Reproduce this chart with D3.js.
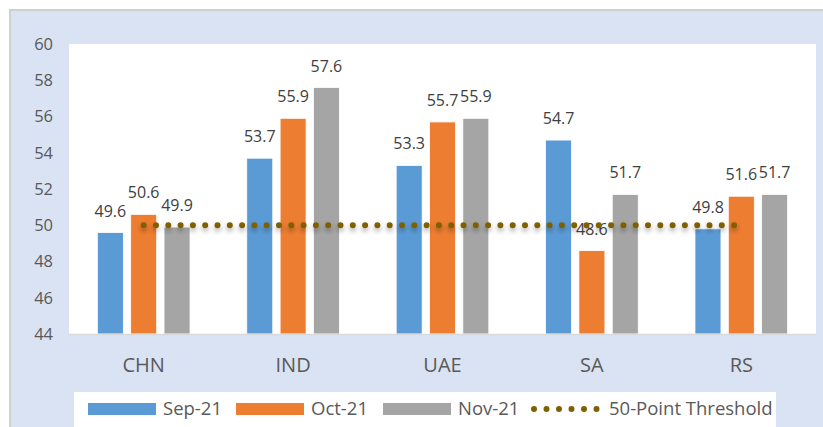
<!DOCTYPE html>
<html>
<head>
<meta charset="utf-8">
<script src="https://cdn.jsdelivr.net/npm/d3@7"></script>
<style>
  body { margin: 0; background: #fff; }
  text { font-family: 'Open Sans', sans-serif; }
</style>
</head>
<body>
<script>
// chart data
var countries = ['CHN', 'IND', 'UAE', 'SA', 'RS']
var seriesNames = ['Sep-21', 'Oct-21', 'Nov-21']
var sep21 = [49.6, 53.7, 53.3, 54.7, 49.8]
var oct21 = [50.6, 55.9, 55.7, 48.6, 51.6]
var nov21 = [49.9, 57.6, 55.9, 51.7, 51.7]
var threshold = [50, 50, 50, 50, 50]
var thresholdName = '50-Point Threshold'
var yTicks = [44, 46, 48, 50, 52, 54, 56, 58, 60]

var colors = ['#5B9BD5', '#ED7D31', '#A5A5A5']
var lineColor = '#7F6000'
var seriesValues = [sep21, oct21, nov21]

var width = 823, height = 427
var plot = {left: 69, right: 816, top: 44, bottom: 334}

var svg = d3.select('body').append('svg').attr('width', width).attr('height', height)

// shadow under the dotted line (user space, the path is flat so bbox height is 0)
var defs = svg.append('defs')
var f = defs.append('filter').attr('id', 'shadow').attr('filterUnits', 'userSpaceOnUse')
    .attr('x', 100).attr('y', 200).attr('width', 700).attr('height', 60)
f.append('feDropShadow').attr('dx', 0).attr('dy', 3).attr('stdDeviation', 2.5)
    .attr('flood-color', '#000').attr('flood-opacity', 0.35)

// outer chart area
svg.append('rect').attr('x', 10).attr('y', 10).attr('width', 830).attr('height', 430)
    .attr('fill', '#DAE3F3').attr('stroke', '#D0D0D0').attr('stroke-width', 2)

// plot area
svg.append('rect').attr('x', plot.left).attr('y', plot.top)
    .attr('width', plot.right - plot.left).attr('height', plot.bottom - plot.top).attr('fill', '#fff')

var x0 = d3.scaleBand().domain(countries).range([plot.left, plot.right])
var groupW = 100
var x1 = d3.scaleBand().domain(seriesNames).range([0, groupW]).paddingInner(0.22).paddingOuter(0.11)
var y = d3.scaleLinear().domain([44, 60]).range([plot.bottom, plot.top])

// y axis labels (no line)
var yAxis = d3.axisLeft(y).tickValues(yTicks).tickSize(0).tickPadding(0)
var yg = svg.append('g').attr('transform', 'translate(53,0)').call(yAxis)
yg.select('.domain').remove()
yg.selectAll('text').attr('font-size', 16.5).attr('fill', '#595959').style('font-family', "'Open Sans', sans-serif")

// bars
var groups = svg.selectAll('.grp').data(countries).enter().append('g')
    .attr('transform', d => `translate(${x0(d) + x0.bandwidth() / 2 - groupW / 2},0)`)

groups.each(function(c, i) {
    var g = d3.select(this)
    seriesNames.forEach(function(s, j) {
        var v = seriesValues[j][i]
        g.append('rect').attr('x', x1(s)).attr('y', y(v))
            .attr('width', x1.bandwidth()).attr('height', y(44) - y(v))
            .attr('fill', colors[j]).attr('stroke', '#fff').attr('stroke-width', 0.8)
    })
})

// x axis line and labels
svg.append('line').attr('x1', plot.left).attr('x2', plot.right).attr('y1', plot.bottom + 0.5).attr('y2', plot.bottom + 0.5)
    .attr('stroke', '#D9D9D9').attr('stroke-width', 1.5)
var xAxis = d3.axisBottom(x0).tickSize(0).tickPadding(0)
var xg = svg.append('g').attr('transform', `translate(0,${plot.bottom})`).call(xAxis)
xg.select('.domain').remove()
xg.selectAll('text').attr('y', 38).attr('dy', 0).attr('font-size', 20).attr('fill', '#595959')
    .style('font-family', "'Open Sans', sans-serif")

// threshold line
var line = d3.line().x((d, i) => x0(countries[i]) + x0.bandwidth() / 2).y(d => y(d))
svg.append('path').attr('d', line(threshold)).attr('fill', 'none')
    .attr('stroke', lineColor).attr('stroke-width', 6).attr('stroke-linecap', 'round')
    .attr('stroke-dasharray', '0 12.3').attr('filter', 'url(#shadow)')

// data labels
groups.each(function(c, i) {
    var g = d3.select(this)
    seriesNames.forEach(function(s, j) {
        var v = seriesValues[j][i]
        g.append('text').attr('x', x1(s) + x1.bandwidth() / 2).attr('y', y(v) - 16)
            .attr('text-anchor', 'middle').attr('font-size', 16).attr('fill', '#404040')
            .text(v.toFixed(1))
    })
})

// legend
svg.append('rect').attr('x', 74).attr('y', 392).attr('width', 702).attr('height', 40).attr('fill', '#fff')
var legX = [88, 236, 383]
seriesNames.forEach(function(s, j) {
    svg.append('rect').attr('x', legX[j]).attr('y', 403).attr('width', 68).attr('height', 12).attr('fill', colors[j])
    svg.append('text').attr('x', legX[j] + 75).attr('y', 415).attr('font-size', 18.5).attr('fill', '#595959').text(s)
})
svg.append('line').attr('x1', 534).attr('x2', 598).attr('y1', 409).attr('y2', 409)
    .attr('stroke', lineColor).attr('stroke-width', 6).attr('stroke-linecap', 'round').attr('stroke-dasharray', '0 12.5')
svg.append('text').attr('x', 609).attr('y', 415).attr('font-size', 18.5).attr('fill', '#595959').text(thresholdName)
</script>
</body>
</html>
